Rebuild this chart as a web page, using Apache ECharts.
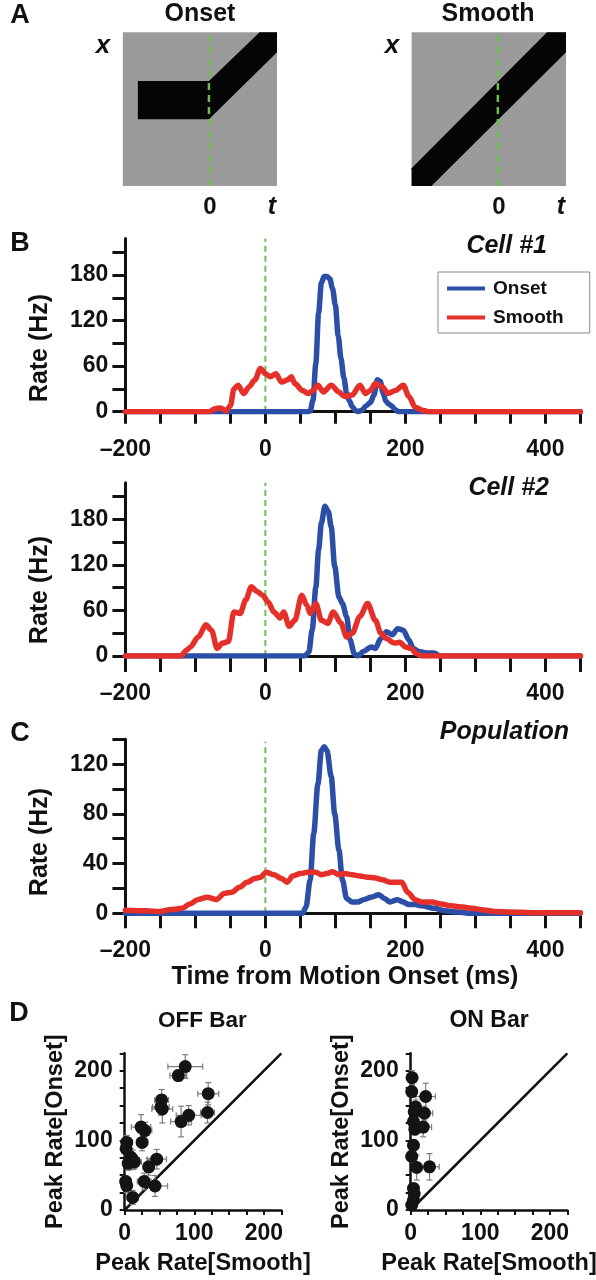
<!DOCTYPE html>
<html><head><meta charset="utf-8">
<script src="https://cdn.jsdelivr.net/npm/echarts@6/dist/echarts.min.js"></script>
<style>html,body{margin:0;padding:0;background:#fff}#c{width:596px;height:1280px}</style>
</head><body><div id="c"></div>
<script>
// ---------- DATA ----------
// Panel A: schematic stimulus (t = time, x = position)
const onsetStim  = [[-82.5,43.4],[-82.5,68.3],[0,68.3],[58.8,100],[79,100],[79,87],[0,43.4]];
const smoothStim = [[-100,0],[-77,0],[79,87],[79,100],[57,100],[-100,11.5]];
const motionOnset = 0;

// Panels B/C: firing rate (Hz) vs time from motion onset (ms)
const timeLabels = [-200, 0, 200, 400];
const rateLabelsB = [0, 60, 120, 180];
const rateTicksB = [0, 30, 60, 90, 120, 150, 180, 210];
const rateLabelsC = [0, 40, 80, 120];
const rateTicksC = [0, 20, 40, 60, 80, 100, 120, 140];

const cell1Onset = [[-200,0],[60,0],[64,1],[68,15],[72,63],[76,130],[80,170],[84,178],[88,178],[92,175],[96,162],[100,140],[104,100],[108,70],[112,45],[116,25],[120,14],[124,7],[128,2],[132,0],[138,2],[144,8],[150,12],[155,22],[160,42],[164,40],[168,25],[172,14],[176,10],[180,8],[185,3],[190,0],[450,0]];
const cell1Smooth = [[-200,0],[-80,0],[-72,4],[-64,5],[-56,1],[-50,8],[-45,30],[-39,35],[-31,24],[-23,33],[-15,42],[-7,57],[0,50],[7,46],[15,50],[23,39],[32,42],[37,46],[42,37],[53,28],[61,24],[68,28],[75,35],[83,26],[94,35],[105,26],[113,20],[124,22],[135,35],[143,24],[150,28],[157,37],[167,33],[175,24],[186,28],[197,35],[205,20],[214,6],[224,2],[233,0],[450,0]];

const cell2Onset = [[-200,0],[56,0],[62,5],[67,35],[72,90],[76,140],[80,175],[85,197],[90,190],[94,170],[99,118],[105,78],[110,69],[116,52],[121,21],[127,3],[132,0],[140,6],[151,12],[157,10],[165,23],[173,32],[181,28],[189,36],[197,34],[205,21],[211,10],[219,6],[230,4],[241,4],[249,0],[450,0]];
const cell2Smooth = [[-200,0],[-121,0],[-112,8],[-107,12],[-96,25],[-85,41],[-77,34],[-69,10],[-61,17],[-53,19],[-45,58],[-36,56],[-28,74],[-20,91],[-12,85],[-4,80],[4,71],[12,58],[21,50],[26,58],[34,39],[42,47],[52,80],[59,67],[64,56],[72,69],[80,47],[89,43],[97,58],[108,43],[116,25],[124,30],[135,52],[146,69],[157,47],[165,30],[173,23],[184,17],[192,18],[200,12],[208,10],[216,3],[224,0],[450,0]];

const popOnset = [[-200,0],[53,0],[58,5],[64,27],[69,64],[75,104],[80,131],[84,134],[88,131],[94,110],[99,80],[105,51],[110,27],[116,12],[124,9],[132,9],[140,11],[151,13],[162,15],[170,12],[178,9],[189,11],[197,9],[205,7],[214,7],[224,6],[241,4],[257,2],[274,1],[295,0],[450,0]];
const popSmooth = [[-200,2.5],[-170,2],[-151,1.5],[-135,3],[-119,4],[-108,7.5],[-97,11],[-83,13],[-70,11],[-59,16],[-48,17],[-37,21],[-26,25],[-15,28],[-7,29],[1,33],[12,31],[23,28],[31,25],[39,30],[50,32],[61,33],[72,33],[80,31],[88,32],[96,33.5],[105,31],[113,32],[124,31],[135,30],[146,29],[157,28.5],[167,27],[178,25],[186,25],[195,25],[203,17],[214,11],[224,9],[238,9],[251,7.5],[265,6],[282,5],[295,4],[312,2.7],[328,1.5],[350,1],[383,0.5],[450,0.5]];

// Panel D: [peak smooth, peak onset, err smooth, err onset]
const peakLabels = [0, 100, 200];
const unity = [[0,0],[225,225]];
const offBar = [[87,206,25,17],[77,193,12,8],[120,167,15,16],[119,140,10,15],[53,158,10,15],[52,148,12,12],[54,145,15,20],[81,127,15,22],[92,136,18,14],[23.5,119,14,18],[29,114,10,12],[25,97,8,12],[3,97,6,10],[2,88,4,10],[8.6,76,8,12],[11.5,72,10,14],[14,69,10,10],[5,67,6,10],[46,73,14,14],[34.5,62,8,12],[1.4,41,4,8],[2.9,35,5,10],[28,41,10,12],[43.6,34.5,18,15],[11.5,18,8,10]];
const onBar = [[2,190,2,10],[1.5,170,2,8],[21.5,163,14,19],[7,148,5,10],[5,141,4,8],[19.6,139,12,10],[18,119,12,14],[6,116,4,8],[4,127,3,8],[4,93,3,8],[1.5,77,2,8],[8.6,61,6,18],[27,62,14,19],[4,31,3,6],[5,23,3,6],[4,14,3,5],[1.5,7,2,4]];

// ---------- STYLE ----------
const FONT = '"Liberation Sans", Arial, Helvetica, sans-serif';
const INK = '#111111';
const BLUE = '#2b4fa6', RED = '#e5302a', GREEN = '#6cbd52';

const fmtTime = v => timeLabels.includes(v) ? (v < 0 ? '\u2013' + (-v) : String(v)) : '';

function timeAxis(gi, tickLen) {
  return {gridIndex: gi, type: 'value', min: -200, max: 450, interval: 50,
    axisLine: {onZero: false, lineStyle: {color: INK, width: 3}},
    axisTick: {length: tickLen, lineStyle: {color: INK, width: 3}},
    axisLabel: {margin: 26, fontSize: 23, fontWeight: 'bold', fontFamily: FONT, color: INK,
      customValues: timeLabels, formatter: fmtTime},
    splitLine: {show: false}};
}
function rateAxis(gi, max, interval, ticks, labels) {
  return {gridIndex: gi, type: 'value', min: 0, max: max, interval: interval,
    axisLine: {onZero: false, lineStyle: {color: INK, width: 3}},
    axisTick: {length: 13, customValues: ticks, lineStyle: {color: INK, width: 3}},
    axisLabel: {margin: 17, fontSize: 23, fontWeight: 'bold', fontFamily: FONT, color: INK,
      customValues: labels, formatter: v => labels.includes(v) ? String(v) : ''},
    splitLine: {show: false}};
}
function peakAxis(gi, name, gap) {
  return {gridIndex: gi, type: 'value', min: 0, max: 225, interval: 25,
    name: name, nameLocation: 'middle', nameGap: gap,
    nameTextStyle: {fontSize: 23.5, fontWeight: 'bold', fontFamily: FONT, color: INK},
    axisLine: {onZero: false, lineStyle: {color: INK, width: 2.5}},
    axisTick: {length: 5, lineStyle: {color: INK, width: 2}},
    axisLabel: {margin: 12, fontSize: 23, fontWeight: 'bold', fontFamily: FONT, color: INK,
      customValues: peakLabels, formatter: v => peakLabels.includes(v) ? String(v) : ''},
    splitLine: {show: false}};
}
function hiddenAxis(gi, min, max) { return {gridIndex: gi, type: 'value', min: min, max: max, show: false}; }

function stimSeries(gi, verts) {
  return {type: 'custom', name: 'stim' + gi, xAxisIndex: gi, yAxisIndex: gi, data: [[0, 0]], silent: true, z: 2,
    renderItem: (p, api) => ({type: 'polygon', shape: {points: verts.map(v => api.coord(v))}, style: {fill: '#050505'}})};
}
function onsetMarker(gi, top, width, dash) {
  return {type: 'line', name: 'marker' + gi, xAxisIndex: gi, yAxisIndex: gi, silent: true, symbol: 'none', z: 3,
    data: [[motionOnset, 0], [motionOnset, top]],
    lineStyle: {color: GREEN, width: width, type: dash}};
}
function rateSeries(gi, name, data, color) {
  return {type: 'line', name: name, xAxisIndex: gi, yAxisIndex: gi, data: data, symbol: 'none', showSymbol: false,
    smooth: 0.3, smoothMonotone: 'x', silent: true, z: name === 'Smooth' ? 5 : 4,
    lineStyle: {color: color, width: 5.5, cap: 'round', join: 'round'}, itemStyle: {color: color}};
}
function errorBars(gi, data) {
  return {type: 'custom', name: 'err' + gi, xAxisIndex: gi, yAxisIndex: gi, data: data, encode: {x: 0, y: 1}, silent: true, z: 4,
    renderItem(p, api) {
      const x = api.value(0), y = api.value(1), ex = api.value(2), ey = api.value(3);
      const L = api.coord([x - ex, y]), R = api.coord([x + ex, y]), T = api.coord([x, y + ey]), B = api.coord([x, y - ey]);
      const c = 3;
      const ln = (x1, y1, x2, y2) => ({type: 'line', shape: {x1, y1, x2, y2}, style: {stroke: '#7d7d7d', lineWidth: 1.2}});
      return {type: 'group', children: [
        ln(L[0], L[1], R[0], R[1]), ln(T[0], T[1], B[0], B[1]),
        ln(L[0], L[1] - c, L[0], L[1] + c), ln(R[0], R[1] - c, R[0], R[1] + c),
        ln(T[0] - c, T[1], T[0] + c, T[1]), ln(B[0] - c, B[1], B[0] + c, B[1])]};
    }};
}
function dots(gi, data) {
  return {type: 'scatter', name: 'dots' + gi, xAxisIndex: gi, yAxisIndex: gi, data: data, encode: {x: 0, y: 1},
    symbolSize: 13, silent: true, z: 6, itemStyle: {color: '#141414', opacity: 1}};
}
function unityLine(gi) {
  return {type: 'line', name: 'unity' + gi, xAxisIndex: gi, yAxisIndex: gi, data: unity, symbol: 'none', silent: true, z: 3,
    lineStyle: {color: INK, width: 2.5}};
}
function txt(text, x, y, size, opts) {
  opts = opts || {};
  return {type: 'text', x: x, y: y, rotation: opts.rot || 0, z: 100, silent: true,
    style: {text: text, fontSize: size, fontWeight: 'bold', fontStyle: opts.italic ? 'italic' : 'normal',
      fontFamily: FONT, fill: INK, textAlign: opts.align || 'center', textVerticalAlign: 'middle'}};
}

const gridBase = {containLabel: false, outerBoundsMode: 'none'};
const option = {
  animation: false,
  backgroundColor: '#ffffff',
  grid: [
    Object.assign({left: 122.8, top: 32.3, width: 154.2, height: 153.7, show: true, backgroundColor: '#9b9b9b', borderWidth: 0}, gridBase),
    Object.assign({left: 411.6, top: 32.3, width: 154.4, height: 153.7, show: true, backgroundColor: '#9b9b9b', borderWidth: 0}, gridBase),
    Object.assign({left: 125.4, top: 238.6, width: 455, height: 173.1}, gridBase),
    Object.assign({left: 125.4, top: 482.7, width: 455, height: 173.3}, gridBase),
    Object.assign({left: 125.4, top: 739.3, width: 455, height: 174}, gridBase),
    Object.assign({left: 124.7, top: 1053.3, width: 156.6, height: 156.7}, gridBase),
    Object.assign({left: 410.7, top: 1053.3, width: 156.6, height: 156.7}, gridBase)
  ],
  xAxis: [
    hiddenAxis(0, -100, 79), hiddenAxis(1, -100, 79),
    timeAxis(2, 12), timeAxis(3, 16), timeAxis(4, 15),
    peakAxis(5, 'Peak Rate[Smooth]', 42), peakAxis(6, 'Peak Rate[Smooth]', 42)
  ],
  yAxis: [
    hiddenAxis(0, 0, 100), hiddenAxis(1, 0, 100),
    rateAxis(2, 228, 30, rateTicksB, rateLabelsB), rateAxis(3, 228, 30, rateTicksB, rateLabelsB),
    rateAxis(4, 140, 20, rateTicksC, rateLabelsC),
    peakAxis(5, 'Peak Rate[Onset]', 57), peakAxis(6, 'Peak Rate[Onset]', 57)
  ],
  legend: {data: ['Onset', 'Smooth'], left: 438, top: 272, orient: 'vertical', icon: 'rect',
    itemWidth: 38, itemHeight: 4, itemGap: 10, padding: [7, 26, 6, 9],
    borderColor: '#8a8a8a', borderWidth: 1, selectedMode: false,
    textStyle: {fontSize: 19, fontWeight: 'bold', fontFamily: FONT, color: INK, padding: [0, 0, 0, 3]}},
  series: [
    stimSeries(0, onsetStim), onsetMarker(0, 100, 2.5, [7, 5]),
    stimSeries(1, smoothStim), onsetMarker(1, 100, 2.5, [7, 5]),
    onsetMarker(2, 228, 2, [6, 4]), rateSeries(2, 'Onset', cell1Onset, BLUE), rateSeries(2, 'Smooth', cell1Smooth, RED),
    onsetMarker(3, 228, 2, [6, 4]), rateSeries(3, 'Onset', cell2Onset, BLUE), rateSeries(3, 'Smooth', cell2Smooth, RED),
    onsetMarker(4, 138, 2, [6, 4]), rateSeries(4, 'Onset', popOnset, BLUE), rateSeries(4, 'Smooth', popSmooth, RED),
    unityLine(5), errorBars(5, offBar), dots(5, offBar),
    unityLine(6), errorBars(6, onBar), dots(6, onBar)
  ],
  graphic: [
    txt('A', 20, 16, 27), txt('Onset', 200, 14, 25), txt('Smooth', 488, 14, 25),
    txt('x', 103, 46, 26, {italic: true}), txt('x', 392, 46, 26, {italic: true}),
    txt('0', 210, 207, 24), txt('t', 272, 207, 25, {italic: true}),
    txt('0', 499, 207, 24), txt('t', 561, 207, 25, {italic: true}),
    txt('B', 20, 244, 27),
    txt('Cell #1', 547, 246, 25, {italic: true, align: 'right'}),
    txt('Rate (Hz)', 40, 348, 25, {rot: Math.PI / 2}),
    txt('Cell #2', 549, 488, 25, {italic: true, align: 'right'}),
    txt('Rate (Hz)', 40, 590, 25, {rot: Math.PI / 2}),
    txt('C', 20, 734, 27),
    txt('Population', 569, 732, 25, {italic: true, align: 'right'}),
    txt('Rate (Hz)', 40, 842, 25, {rot: Math.PI / 2}),
    txt('Time from Motion Onset (ms)', 345, 977, 25),
    txt('D', 19, 1014, 27),
    txt('OFF Bar', 202.5, 1021, 22.5), txt('ON Bar', 489, 1021, 23)
  ]
};
const chart = echarts.init(document.getElementById('c'), null, {renderer: 'canvas', width: 596, height: 1280});
chart.setOption(option);
</script></body></html>
